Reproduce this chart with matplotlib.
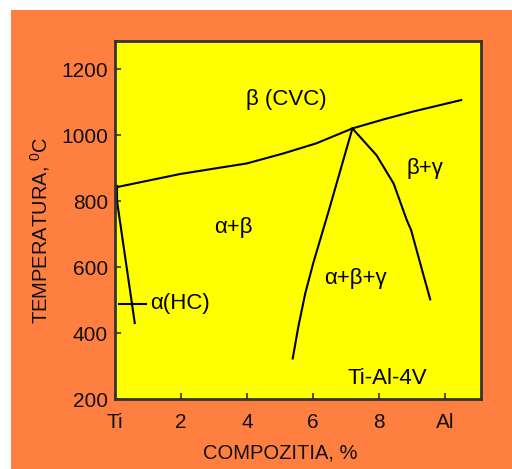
import matplotlib.pyplot as plt
import matplotlib.patches as mpatches

plt.rcParams['font.family'] = ['Liberation Sans', 'DejaVu Sans']
plt.rcParams['mathtext.fontset'] = 'custom'
plt.rcParams['mathtext.rm'] = 'Liberation Sans'

# ---------------------- phase boundaries (Al %, temperature C)
transus_x = [0.0, 1.98, 4.0, 5.1, 6.11, 7.2, 8.13, 9.03, 10.5]
transus_t = [841, 882, 914, 944, 975, 1020, 1047, 1071, 1106]

alpha_x = [0.0, 0.6]
alpha_t = [842, 430]

abg_x = [7.2, 6.78, 6.49, 6.25, 6.01, 5.77, 5.56, 5.39]
abg_t = [1020, 874, 773, 692, 611, 520, 419, 323]

bg_x = [7.2, 7.93, 8.45, 8.85, 8.98, 9.34, 9.56]
bg_t = [1020, 939, 853, 742, 712, 581, 502]

# small marker across the alpha solvus
mark_x = [0.12, 0.94]
mark_t = [488, 488]

xticks = [0, 2, 4, 6, 8, 10]
xticklabels = ['Ti', '2', '4', '6', '8', 'Al']
yticks = [200, 400, 600, 800, 1000, 1200]

orange = '#ff7f40'
yellow = '#ffff00'

fig = plt.figure(figsize=(5.12, 4.69), dpi=100, facecolor='white')
fig.patches.append(mpatches.Rectangle((11/512, 0), 1 - 11/512, 1 - 10/469,
                                      transform=fig.transFigure, facecolor=orange,
                                      edgecolor='none', zorder=-1))

ax = fig.add_axes([115/512, 1 - 399/469, 366/512, 358/469])
ax.set_facecolor(yellow)
for s in ax.spines.values():
    s.set_linewidth(2)
    s.set_color('#333333')

for xs, ts in [(transus_x, transus_t), (alpha_x, alpha_t), (abg_x, abg_t),
               (bg_x, bg_t), (mark_x, mark_t)]:
    ax.plot(xs, ts, color='black', lw=1.5, solid_joinstyle='round')
ax.plot([0.03, 0.03], [805, 842], color='black', lw=3)

ax.set_xlim(0, 11.1)
ax.set_ylim(200, 1285)
ax.set_xticks(xticks)
ax.set_xticklabels(xticklabels)
ax.set_yticks(yticks)
ax.tick_params(direction='in', length=4, width=1.2, color='#333333',
               labelsize=15, labelcolor='#111111')
ax.tick_params(axis='x', pad=10)
ax.tick_params(axis='y', pad=5)

fs = 16
ax.text(5.2, 1109, 'β (CVC)', fontsize=fs, ha='center', va='center')
ax.text(3.6, 721, 'α+β', fontsize=fs, ha='center', va='center')
ax.text(1.07, 488, 'α(HC)', fontsize=fs, ha='left', va='center')
ax.text(7.3, 566, 'α+β+γ', fontsize=fs, ha='center', va='center')
ax.text(9.4, 899, 'β+γ', fontsize=fs, ha='center', va='center')
ax.text(8.25, 262, 'Ti-Al-4V', fontsize=fs, ha='center', va='center')

fig.text(40/512, 1 - 230/469, r'TEMPERATURA, $^{0}$C', fontsize=14.5,
         rotation=90, ha='center', va='center', color='#111111')
fig.text(280/512, 1 - 453/469, 'COMPOZITIA, %', fontsize=14.5,
         ha='center', va='center', color='#111111')

fig.savefig('out.png', dpi=100, facecolor=fig.get_facecolor())
